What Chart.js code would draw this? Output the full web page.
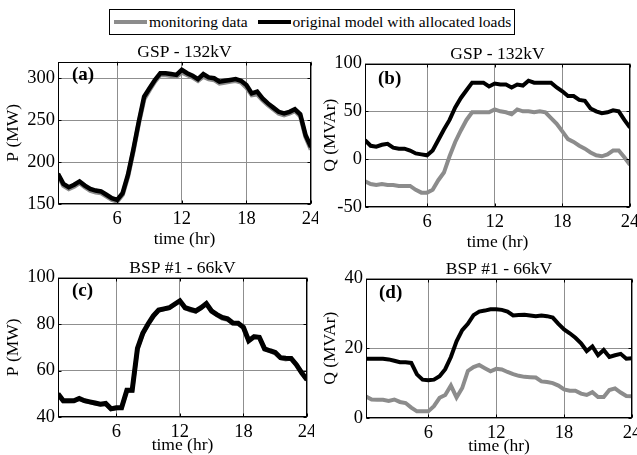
<!DOCTYPE html>
<html><head><meta charset="utf-8">
<script src="https://cdn.jsdelivr.net/npm/chart.js@4.4.0/dist/chart.umd.min.js"></script>
<style>
html,body{margin:0;padding:0;background:#fff;width:637px;height:455px;overflow:hidden;position:relative;font-family:"Liberation Serif","Times New Roman",Times,serif;}
.pane{position:absolute;}
#legend{position:absolute;left:109px;top:9px;height:26px;border:1px solid #000;box-sizing:border-box;display:flex;align-items:center;font-family:"Liberation Serif","Times New Roman",Times,serif;font-size:15.5px;white-space:nowrap;padding:0 3px 0 4px;color:#000;}
.sw{display:inline-block;width:33px;height:4px;margin-right:2px;}
</style></head><body>
<div id="legend"><span class="sw" style="background:#8c8c8c"></span><span>monitoring data</span><span class="sw" style="background:#000;margin-left:10px"></span><span>original model with allocated loads</span></div>
<div class="pane" style="left:0px;top:44px;"><canvas id="ca" width="318" height="206"></canvas></div>
<div class="pane" style="left:318px;top:46px;"><canvas id="cb" width="319" height="207"></canvas></div>
<div class="pane" style="left:0px;top:260px;"><canvas id="cc" width="314" height="195"></canvas></div>
<div class="pane" style="left:318px;top:261px;"><canvas id="cd" width="319" height="194"></canvas></div>
<script>
const hours = [0.5,1,1.5,2,2.5,3,3.5,4,4.5,5,5.5,6,6.5,7,7.5,8,8.5,9,9.5,10,10.5,11,11.5,12,12.5,13,13.5,14,14.5,15,15.5,16,16.5,17,17.5,18,18.5,19,19.5,20,20.5,21,21.5,22,22.5,23,23.5,24];
const xTicks = [6,12,18,24];

// (a) GSP - 132kV, P (MW)
const gspP_monitor = [184,172,168,171,175,170,166,164,163,159,155,153,161,183,213,246,275,286,296,304,304,303,302,307,304,301,297,302,299,298,294,295,296,297,295,289,280,281,274,268,263,258,256,258,261,255,230,215];
const gspP_model   = [186,174,170,173,177,172,168,166,165,161,157,155,163,185,215,248,278,288,298,306,306,305,304,310,306,303,299,305,301,300,296,297,298,299,297,292,282,284,276,270,265,260,258,260,263,257,232,218];
const gspP_ticks = [150,200,250,300];

// (b) GSP - 132kV, Q (MVAr)
const gspQ_monitor = [-23,-26,-27,-26,-27,-27,-28,-28,-28,-32,-35,-35,-32,-22,-14,3,18,30,41,49,49,49,49,52,50,49,47,52,50,50,49,50,49,43,37,29,21,18,14,11,7,4,3,5,9,9,2,-6];
const gspQ_model   = [20,14,13,15,16,12,11,11,9,6,5,4,9,20,31,41,54,64,72,80,80,80,76,79,78,78,75,78,77,82,80,80,80,80,75,71,66,66,62,61,53,50,48,49,51,50,41,33];
const gspQ_ticks = [-50,0,50,100];

// (c) BSP #1 - 66kV, P (MW)
const bspP_monitor = [49.7,46.8,46.8,46.9,47.8,46.8,46.3,45.8,45.4,45.6,43.4,43.8,43.9,51.3,51.3,69.2,75.8,79.8,83.3,85.8,86.3,86.8,88.3,89.8,86.8,85.8,85.3,86.8,88.8,85.8,83.8,82.3,81.8,80.3,80.3,78.3,72.8,74.8,74.3,69.3,68.3,67.3,65.3,64.8,65.3,62.3,59.3,55.8];
const bspP_model   = [50,47,47,47,48,47,46.5,46,45.5,45.8,43.5,44,44,51.5,51.5,69.5,76,80,83.5,86,86.5,87,88.5,90,87,86.3,85.6,87,88.8,85.5,84,82.8,82.2,80.4,80.3,78.6,72.8,74.5,74.3,69.3,68.5,67.8,65.5,65.3,65.2,62.5,59,56];
const bspP_ticks = [40,60,80,100];

// (d) BSP #1 - 66kV, Q (MVAr)
const bspQ_monitor = [6.2,5.3,5.2,5.2,4.9,5.3,4.6,4.3,3,1.9,1.9,1.9,3.4,5.8,6.6,9.3,5.9,8.6,13.5,14.6,15.2,14.3,13.4,14.1,13.9,13.2,12.6,12.1,11.8,11.7,11.6,10.5,10.3,10,9.3,8.2,7.8,7.8,7,6.6,7.4,6,6,8,8.5,7.3,6.3,6.2];
const bspQ_model   = [17,17,17,17,16.8,16.4,16,16,15.8,12.5,11,10.8,11,12,14,17.5,22,25.2,27,29.5,30.5,30.8,31.2,31.2,31,30.5,29.4,29.5,29.6,29.4,29.2,29.4,29.2,28.8,27,25.4,24.3,23,21.4,19.2,20.5,18,19.5,17.5,18,18.4,17,17.1];
const bspQ_ticks = [0,20,40];

const FONT = '"Liberation Serif", "Times New Roman", serif';
const GRAY = '#8c8c8c';
const GRID = '#8f8f8f';

function pts(ys){ return hours.map((h,i)=>({x:h,y:ys[i]})); }

const boxPlugin = {
  id:'boxPlugin',
  afterDraw(chart){
    const {ctx, chartArea:a} = chart;
    const o = chart.options.plugins.boxPlugin;
    const L = Math.round(a.left)+0.5, T = Math.round(a.top)+0.5, R = Math.round(a.right)-0.5, B = Math.round(a.bottom)-0.5;
    ctx.save();
    ctx.strokeStyle = '#000';
    ctx.lineWidth = 1;
    ctx.strokeRect(L, T, R-L, B-T);
    const xs = chart.scales.x, ys = chart.scales.y;
    ctx.beginPath();
    xTicks.forEach(v=>{ const px = Math.round(xs.getPixelForValue(v))+0.5; ctx.moveTo(px,B); ctx.lineTo(px,B-3); ctx.moveTo(px,T); ctx.lineTo(px,T+3); });
    o.yt.forEach(v=>{ const py = Math.round(ys.getPixelForValue(v))+0.5; ctx.moveTo(L,py); ctx.lineTo(L+3,py); ctx.moveTo(R,py); ctx.lineTo(R-3,py); });
    ctx.stroke();
    ctx.fillStyle = '#000';
    ctx.font = 'bold 19px ' + FONT;
    ctx.textBaseline = 'middle';
    ctx.textAlign = 'left';
    ctx.fillText(o.tag, a.left + o.tx, a.top + o.ty);
    ctx.restore();
  }
};

function makePanel(id, c){
  new Chart(document.getElementById(id), {
    type:'line',
    data:{datasets:[
      {label:'original model with allocated loads', data:pts(c.model), borderColor:'#000', borderWidth:c.lwModel, pointRadius:0, tension:0, fill:false, order:0},
      {label:'monitoring data', data:pts(c.monitor), borderColor:GRAY, borderWidth:c.lwMon, pointRadius:0, tension:0, fill:false, order:1}
    ]},
    options:{
      responsive:false, animation:false, devicePixelRatio:1,
      layout:{padding:{left:0,top:0,bottom:0,right:c.padRight}},
      plugins:{
        legend:{display:false}, tooltip:{enabled:false},
        title:{display:true, text:c.title, color:'#000', fullSize:false, font:{family:FONT,size:17.5,weight:'normal',lineHeight:1}, padding:{top:0,bottom:0}},
        boxPlugin:{tag:c.tag, tx:c.tx, ty:c.ty, yt:c.yTicks}
      },
      scales:{
        x:{type:'linear', min:0.5, max:24,
          afterBuildTicks:s=>{ s.ticks = xTicks.map(v=>({value:v})); },
          ticks:{color:'#000', font:{family:FONT,size:18.5}, padding:c.xTickPad, maxRotation:0, autoSkip:false},
          grid:{color:GRID, lineWidth:1, drawTicks:false},
          border:{display:false},
          title:{display:true, text:'time (hr)', color:'#000', font:{family:FONT,size:17.5,lineHeight:1}, padding:{top:0,bottom:c.xTitlePad}},
          afterFit:s=>{ s.height = c.H; s.paddingLeft = 0; s.paddingRight = 0; }
        },
        y:{type:'linear', min:c.ymin, max:c.ymax,
          afterBuildTicks:s=>{ s.ticks = c.yTicks.map(v=>({value:v})); },
          ticks:{color:'#000', font:{family:FONT,size:18.5}, padding:3, autoSkip:false},
          grid:{color:GRID, lineWidth:1, drawTicks:false},
          border:{display:false},
          title:{display:true, text:c.yTitle, color:'#000', font:{family:FONT,size:17.5,lineHeight:1}, padding:{top:c.yTitlePad,bottom:0}},
          afterFit:s=>{ s.width = c.W; s.paddingTop = 0; s.paddingBottom = 0; }
        }
      }
    },
    plugins:[boxPlugin]
  });
}

makePanel('ca',{tag:'(a)', title:'GSP - 132kV', yTitle:'P (MW)', monitor:gspP_monitor, model:gspP_model, ymin:150, ymax:320, yTicks:gspP_ticks, W:58, H:46, padRight:7, xTickPad:4, xTitlePad:2, yTitlePad:5, tx:14, ty:14, lwModel:4.5, lwMon:4.5});
makePanel('cb',{tag:'(b)', title:'GSP - 132kV', yTitle:'Q (MVAr)', monitor:gspQ_monitor, model:gspQ_model, ymin:-50, ymax:100, yTicks:gspQ_ticks, W:47, H:46, padRight:7, xTickPad:4, xTitlePad:2, yTitlePad:4, tx:13, ty:16, lwModel:4, lwMon:4});
makePanel('cc',{tag:'(c)', title:'BSP #1 - 66kV', yTitle:'P (MW)', monitor:bspP_monitor, model:bspP_model, ymin:40, ymax:100, yTicks:bspP_ticks, W:58, H:38, padRight:7, xTickPad:4, xTitlePad:1, yTitlePad:5, tx:14, ty:14, lwModel:5, lwMon:4});
makePanel('cd',{tag:'(d)', title:'BSP #1 - 66kV', yTitle:'Q (MVAr)', monitor:bspQ_monitor, model:bspQ_model, ymin:0, ymax:40, yTicks:bspQ_ticks, W:48, H:37, padRight:5, xTickPad:4, xTitlePad:0, yTitlePad:4, tx:13, ty:15, lwModel:4, lwMon:4});
</script>
</body></html>
